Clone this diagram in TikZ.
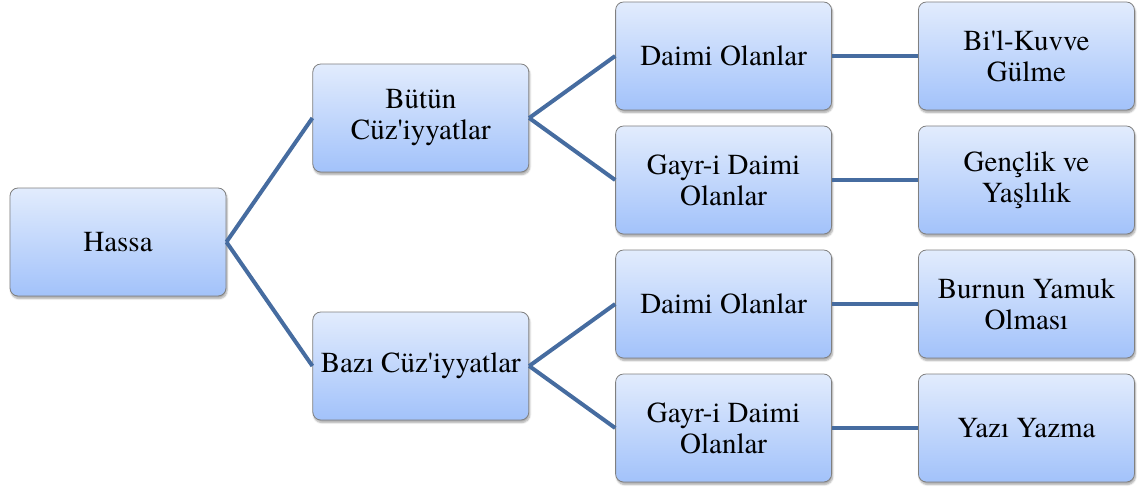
\documentclass[tikz,border=0pt]{standalone}
\usepackage{fontspec}
\setmainfont{TeX Gyre Termes}
\usetikzlibrary{positioning,shadows.blur}
\definecolor{linkblue}{RGB}{70,108,160}
\definecolor{boxtop}{RGB}{226,236,253}
\definecolor{boxbottom}{RGB}{162,194,250}
\newcommand{\apos}{\textquotesingle}
\tikzset{
  box/.style={rectangle, rounded corners=8pt, draw=black!50, line width=0.8pt,
    top color=boxtop, bottom color=boxbottom,
    minimum width=216pt, minimum height=108pt, inner xsep=4pt,
    align=center, font=\fontsize{29}{31}\selectfont,
    blur shadow={shadow xshift=1pt, shadow yshift=-2.5pt, shadow blur steps=6, shadow opacity=35}},
  link/.style={draw=linkblue, line width=4pt}
}
\begin{document}
\begin{tikzpicture}[x=1pt, y=1pt, node distance=86pt]
	\useasboundingbox (0,0) rectangle (1139,-489);
	\node[box] (hassa) at (118,-242) {Hassa};

	\node[box, right=of hassa, yshift=124pt] (butun) {Bütün\\Cüz\apos iyyatlar};
	\node[box, right=of hassa, yshift=-124pt] (bazi) {Bazı Cüz\apos iyyatlar};

	\node[box, right=of butun, yshift=62pt] (daimiA) {Daimi Olanlar};
	\node[box, right=of butun, yshift=-62pt] (gayriA) {Gayr-i Daimi\\Olanlar};
	\node[box, right=of bazi, yshift=62pt] (daimiB) {Daimi Olanlar};
	\node[box, right=of bazi, yshift=-62pt] (gayriB) {Gayr-i Daimi\\Olanlar};

	\node[box, right=of daimiA] (gulme) {Bi\apos l-Kuvve\\Gülme};
	\node[box, right=of gayriA] (genclik) {Gençlik ve\\Yaşlılık};
	\node[box, right=of daimiB] (burun) {Burnun Yamuk\\Olması};
	\node[box, right=of gayriB] (yazi) {Yazı Yazma};

	\foreach \from / \to in {hassa/butun, hassa/bazi, butun/daimiA, butun/gayriA,
		bazi/daimiB, bazi/gayriB, daimiA/gulme, gayriA/genclik, daimiB/burun, gayriB/yazi}
		\draw[link] (\from.east) -- (\to.west);
\end{tikzpicture}
\end{document}
